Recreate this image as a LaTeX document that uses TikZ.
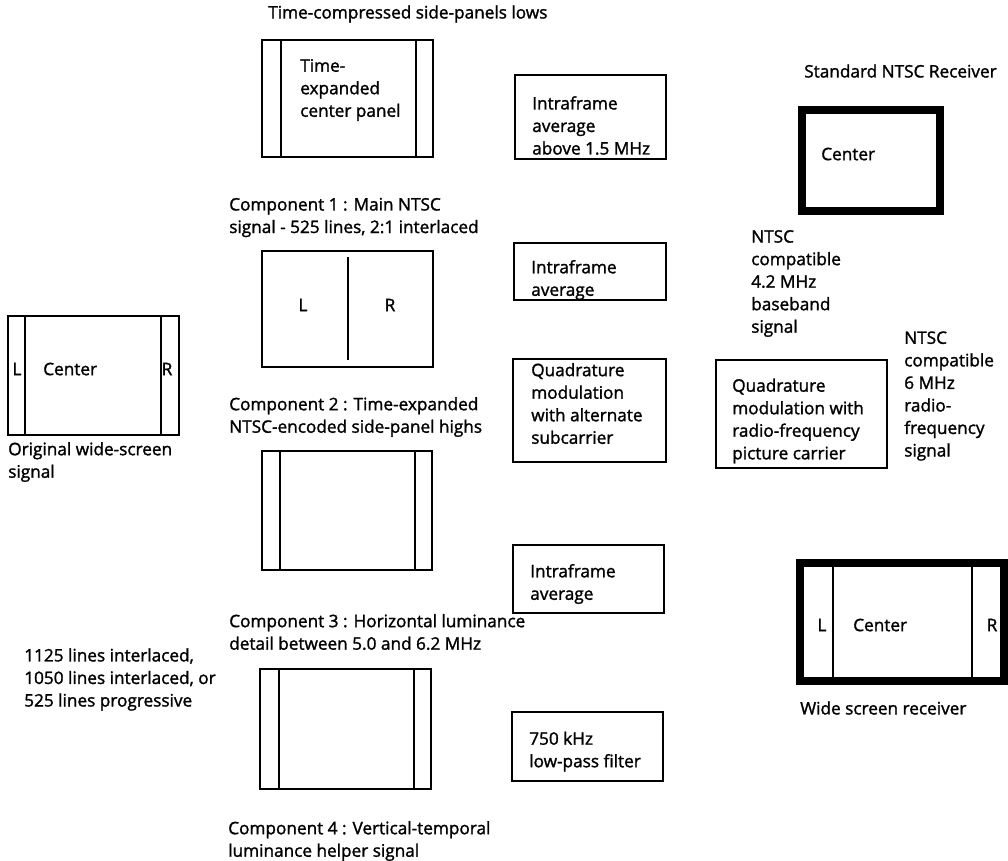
\documentclass[tikz,border=0pt]{standalone}
\usepackage{fontspec}
\setmainfont[FakeBold=1.5]{Open Sans}
\begin{document}
\begin{tikzpicture}[x=0.75pt,y=-0.75pt,
  lbl/.style={align=left,inner sep=0pt,anchor=west,
    font=\fontsize{12.9}{16.9}\selectfont},
  ctr/.style={inner sep=0pt,anchor=center,
    font=\fontsize{12.9}{16.9}\selectfont},
  frame/.style={draw=black,line width=1.7pt},
  divider/.style={draw=black,line width=1.7pt},
  tvset/.style={draw=black,line width=6.2pt}]
\useasboundingbox (0,0) rectangle (1008,861);

% ---- left column: original wide-screen picture
\draw[frame] (8,316) rectangle (179,435);
\draw[divider] (25,316) -- (25,435);
\draw[divider] (161,316) -- (161,435);
\node[ctr] (origL) at (17,369) {L};
\node[lbl] (origC) at (43,369) {Center};
\node[ctr] (origR) at (167,369) {R};
\node[lbl] (origcap) at (8,462) {Original wide-screen\\signal};
\node[lbl] (scan) at (24,679.5) {1125 lines interlaced,\\1050 lines interlaced, or\\525 lines progressive};

% ---- second column: the four components
\node[lbl] (lows) at (268,14) {Time-compressed side-panels lows};
\draw[frame] (262,40) rectangle (433,157);
\draw[divider] (281,40) -- (281,157);
\draw[divider] (416,40) -- (416,157);
\node[lbl] (expc) at (300,90) {Time-\\expanded\\center panel};

\node[lbl] (comp1) at (229,217.5) {Component 1 : Main NTSC\\signal - 525 lines, 2:1 interlaced};
\draw[frame] (262,251) rectangle (433,367);
\draw[divider] (348,257) -- (348,360);
\node[ctr] (c1L) at (303,305) {L};
\node[ctr] (c1R) at (390,305) {R};

\node[lbl] (comp2) at (229,417) {Component 2 : Time-expanded\\NTSC-encoded side-panel highs};
\draw[frame] (262,451) rectangle (432,570);
\draw[divider] (280,451) -- (280,570);
\draw[divider] (415,451) -- (415,570);

\node[lbl] (comp3) at (229,632) {Component 3 : Horizontal luminance\\detail between 5.0 and 6.2 MHz};
\draw[frame] (260,669) rectangle (431,789);
\draw[divider] (279,669) -- (279,789);
\draw[divider] (414,669) -- (414,789);

\node[lbl] (comp4) at (228,841) {Component 4 : Vertical-temporal\\luminance helper signal};

% ---- third column: processing blocks
\draw[frame] (515,75) rectangle (666,159);
\node[lbl] (avg1) at (532,125.5) {Intraframe\\average\\above 1.5 MHz};
\draw[frame] (514,243) rectangle (666,300);
\node[lbl] (avg2) at (531,280) {Intraframe\\average};
\draw[frame] (513,359) rectangle (666,462);
\node[lbl] (quad1) at (531,403.5) {Quadrature\\modulation\\with alternate\\subcarrier};
\draw[frame] (513,545) rectangle (664,613);
\node[lbl] (avg3) at (530,584) {Intraframe\\average};
\draw[frame] (512,712) rectangle (663,781);
\node[lbl] (lpf) at (529,751.5) {750 kHz\\low-pass filter};

% ---- right side: modulation and receivers
\node[lbl] (stdrx) at (804,71) {Standard NTSC Receiver};
\draw[tvset] (802.2,110.2) rectangle (939.8,210.8);
\node[lbl] (stdC) at (821,154) {Center};
\node[lbl] (base) at (751,283.5) {NTSC\\compatible\\4.2 MHz\\baseband\\signal};
\draw[frame] (716,360) rectangle (887,468);
\node[lbl] (quad2) at (732,421) {Quadrature\\modulation with\\radio-frequency\\picture carrier};
\node[lbl] (rf) at (904,396) {NTSC\\compatible\\6 MHz\\radio-\\frequency\\signal};

\draw[tvset] (800,563) rectangle (1004,681);
\draw[divider] (833,563) -- (833,681);
\draw[divider] (972,563) -- (972,681);
\node[ctr] (wideL) at (822,625) {L};
\node[lbl] (wideC) at (853,625) {Center};
\node[ctr] (wideR) at (992,625) {R};
\node[lbl] (widerx) at (800,708) {Wide screen receiver};
\end{tikzpicture}
\end{document}
